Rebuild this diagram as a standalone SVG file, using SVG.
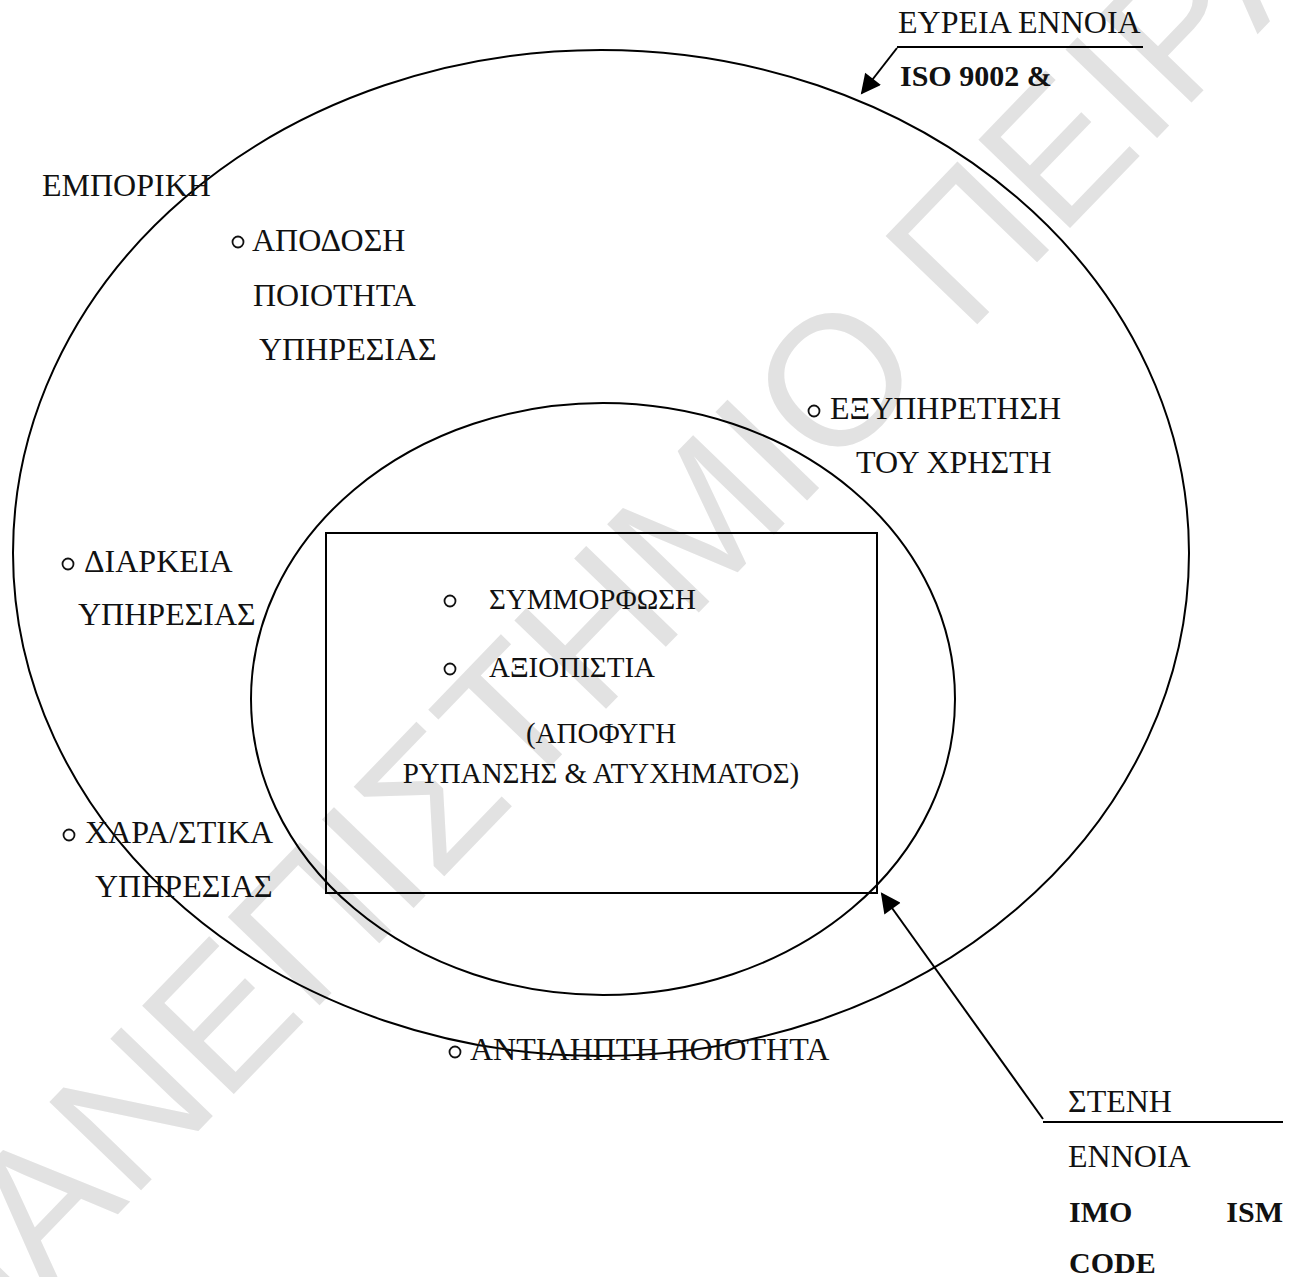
<svg xmlns="http://www.w3.org/2000/svg" width="1300" height="1277" viewBox="0 0 1300 1277">
<defs>
<style>
.t{font-family:"Liberation Serif","Times New Roman",serif;font-size:32px;fill:#111}
.r{font-family:"Liberation Serif","Times New Roman",serif;font-size:29px;fill:#111}
.b{font-family:"Liberation Serif","Times New Roman",serif;font-size:30px;font-weight:bold;fill:#111}
.wm{font-family:"Liberation Sans",Arial,sans-serif;font-size:185px;fill:#e2e2e2}
.ln{fill:none;stroke:#000;stroke-width:2}
.bul{fill:none;stroke:#111;stroke-width:1.8}
</style>
<marker id="ah" viewBox="0 0 10 10" refX="9" refY="5" markerWidth="22" markerHeight="20" markerUnits="userSpaceOnUse" orient="auto">
<path d="M0,0 L10,5 L0,10 z" fill="#000"/>
</marker>
</defs>
<rect x="0" y="0" width="1300" height="1277" fill="#fff"/>
<text class="wm" transform="translate(-48,1386) rotate(-46)">ΠΑΝΕΠΙΣΤΗΜΙΟ ΠΕΙΡΑΙΩΣ</text>

<g id="outer">
<ellipse class="ln" cx="601" cy="553" rx="588" ry="503"/>
</g>
<g id="inner">
<ellipse class="ln" cx="603" cy="699" rx="352" ry="296"/>
</g>
<g id="box">
<rect class="ln" x="326" y="533" width="551" height="360" fill="none"/>
<circle class="bul" cx="450" cy="601" r="5.5"/>
<text class="r" x="489" y="609">ΣΥΜΜΟΡΦΩΣΗ</text>
<circle class="bul" cx="450" cy="669" r="5.5"/>
<text class="r" x="489" y="677">ΑΞΙΟΠΙΣΤΙΑ</text>
<text class="r" x="601" y="743" text-anchor="middle">(ΑΠΟΦΥΓΗ</text>
<text class="r" x="601" y="783" text-anchor="middle">ΡΥΠΑΝΣΗΣ &amp; ΑΤΥΧΗΜΑΤΟΣ)</text>
</g>

<g id="wide-label">
<text class="t" x="898" y="33">ΕΥΡΕΙΑ ΕΝΝΟΙΑ</text>
<text class="b" x="900" y="86">ISO 9002 &amp;</text>
</g>
<g id="narrow-label">
<text class="t" x="1068" y="1112">ΣΤΕΝΗ</text>
<text class="t" x="1068" y="1167">ΕΝΝΟΙΑ</text>
<text class="b" x="1069" y="1222">IMO</text>
<text class="b" x="1283" y="1222" text-anchor="end">ISM</text>
<text class="b" x="1069" y="1273">CODE</text>
</g>
<g id="emporiki">
<text class="t" x="42" y="196">ΕΜΠΟΡΙΚΗ</text>
</g>
<g id="apodosi">
<circle class="bul" cx="238" cy="242" r="5.5"/>
<text class="t" x="252" y="251">ΑΠΟΔΟΣΗ</text>
<text class="t" x="253" y="306">ΠΟΙΟΤΗΤΑ</text>
<text class="t" x="259" y="360">ΥΠΗΡΕΣΙΑΣ</text>
</g>
<g id="exypiretisi">
<circle class="bul" cx="814" cy="411" r="5.5"/>
<text class="t" x="830" y="419">ΕΞΥΠΗΡΕΤΗΣΗ</text>
<text class="t" x="856" y="473">ΤΟΥ ΧΡΗΣΤΗ</text>
</g>
<g id="diarkeia">
<circle class="bul" cx="68" cy="564" r="5.5"/>
<text class="t" x="84" y="572">ΔΙΑΡΚΕΙΑ</text>
<text class="t" x="78" y="625">ΥΠΗΡΕΣΙΑΣ</text>
</g>
<g id="xaraktiristika">
<circle class="bul" cx="69" cy="835" r="5.5"/>
<text class="t" x="85" y="843">ΧΑΡΑ/ΣΤΙΚΑ</text>
<text class="t" x="95" y="897">ΥΠΗΡΕΣΙΑΣ</text>
</g>
<g id="antilipti">
<circle class="bul" cx="455" cy="1052" r="5.5"/>
<text class="t" x="470" y="1060">ΑΝΤΙΛΗΠΤΗ ΠΟΙΟΤΗΤΑ</text>
</g>

<g id="connectors">
<line class="ln" x1="897" y1="47" x2="1143" y2="47"/>
<line class="ln" x1="897" y1="48" x2="862" y2="93" marker-end="url(#ah)"/>
<line class="ln" x1="1043" y1="1122" x2="1283" y2="1122"/>
<line class="ln" x1="1043" y1="1119" x2="882" y2="894" marker-end="url(#ah)"/>
</g>
</svg>
